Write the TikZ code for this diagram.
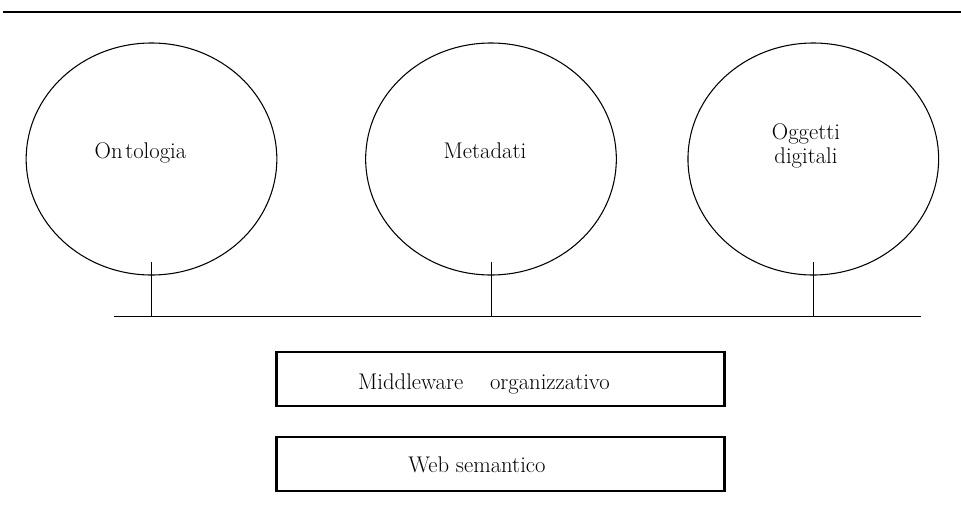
\documentclass[tikz,border=0pt]{standalone}
\usepackage{fontspec}
\usetikzlibrary{shapes.geometric}
\tikzset{
  bubble/.style={draw, ellipse, line width=0.8pt, minimum width=188pt, minimum height=174pt, inner sep=0pt},
  lbl/.style={font=\fontsize{17}{17.5}\selectfont, inner sep=0pt, anchor=base},
  layerbox/.style={draw, line width=1.6pt, inner sep=0pt},
  wire/.style={line width=0.7pt},
}
\begin{document}
\begin{tikzpicture}[x=0.75pt, y=-0.75pt]
\useasboundingbox (0,0) rectangle (961,511);
% top rule
\coordinate (rl) at (3,12);
\coordinate (rr) at (961,12);
\draw[line width=0.9pt] (rl) -- (rr);
% bubbles
\node[bubble] (e1) at (151.5,159) {};
\node[bubble] (e2) at (491,159) {};
\node[bubble] (e3) at (813.3,159) {};
\node[lbl] (t1) at (140.5,158.3) {On\hspace{0.12em}tologia};
\node[lbl] (t2) at (485,158.3) {Metadati};
\node[lbl, anchor=center, align=center] (t3) at (806,146) {Oggetti\\digitali};
% stems and bus
\coordinate (s1) at (151,262);
\coordinate (s2) at (491,262);
\coordinate (s3) at (813,262);
\coordinate (b1) at (151,316.5);
\coordinate (b2) at (491,316.5);
\coordinate (b3) at (813,316.5);
\coordinate (busL) at (114,316.5);
\coordinate (busR) at (921,316.5);
\draw[wire] (busL) -- (busR);
\draw[wire] (s1) -- (b1);
\draw[wire] (s2) -- (b2);
\draw[wire] (s3) -- (b3);
% layer boxes
\node[layerbox, minimum width=336pt, minimum height=40pt] (mw) at (500.5,379) {};
\node[layerbox, minimum width=336pt, minimum height=40.5pt] (ws) at (500.5,464) {};
\node[lbl] (tm) at (484,389.3) {Middleware\hspace{20pt}organizzativo};
\node[lbl] (tw) at (477,472.7) {Web semantico};
\end{tikzpicture}
\end{document}
